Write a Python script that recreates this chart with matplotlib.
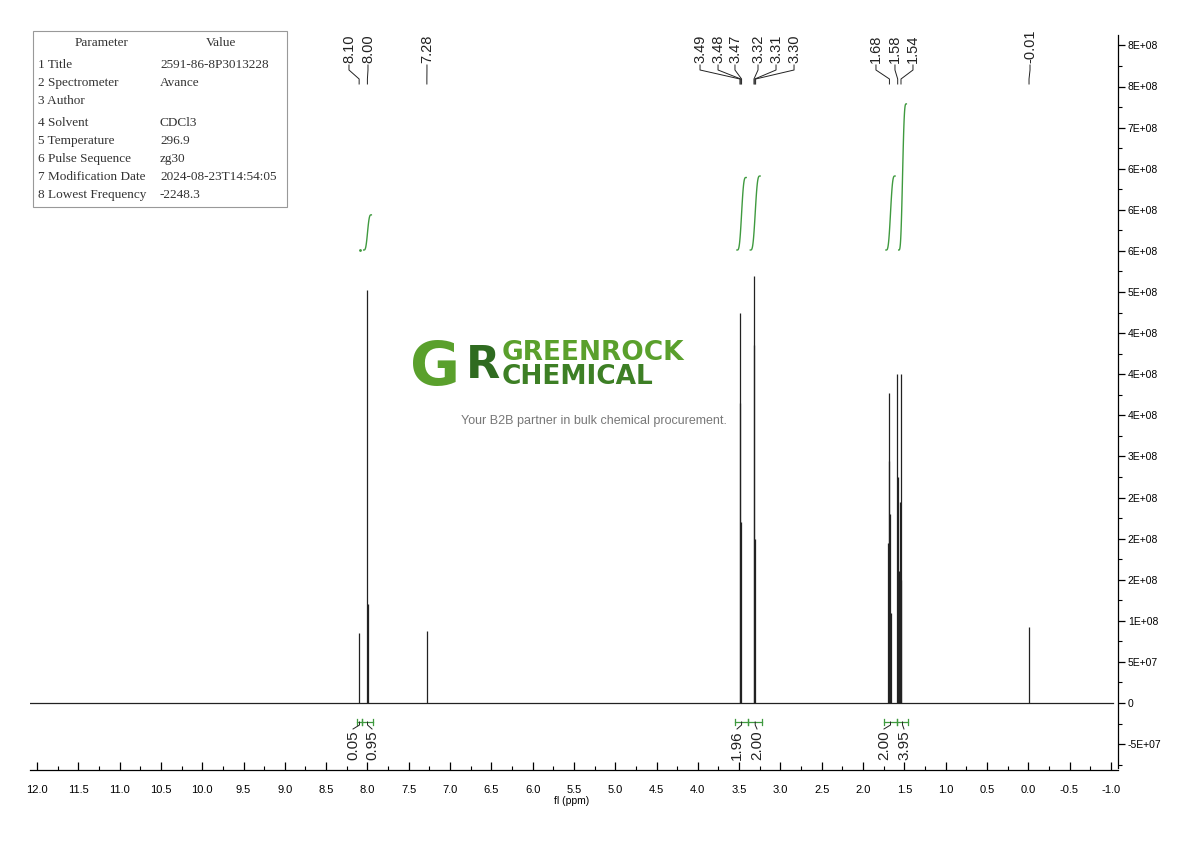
import numpy as np
import matplotlib
matplotlib.use("Agg")
import matplotlib.pyplot as plt
from matplotlib.ticker import MultipleLocator, FuncFormatter
from matplotlib.patches import Rectangle

# peak list (ppm, intensity)
peak_ppm = [8.10, 8.00, 7.99, 7.28,
            3.495, 3.485, 3.475, 3.325, 3.315, 3.305,
            1.700, 1.690, 1.680, 1.670, 1.660,
            1.585, 1.575, 1.565, 1.555, 1.545, 1.535,
            -0.01]
peak_int = [8.5e7, 5.02e8, 1.2e8, 8.8e7,
            3.65e8, 4.75e8, 2.2e8, 4.35e8, 5.2e8, 2.0e8,
            1.95e8, 2.95e8, 3.77e8, 2.3e8, 1.1e8,
            4.0e8, 2.75e8, 1.6e8, 2.45e8, 4.0e8, 1.5e8,
            9.2e7]

# peak labels on top
label_vals = ["8.10", "8.00", "7.28", "3.49", "3.48", "3.47", "3.32", "3.31", "3.30",
              "1.68", "1.58", "1.54", "-0.01"]
label_peak = [8.10, 8.00, 7.28, 3.49, 3.48, 3.47, 3.32, 3.31, 3.30, 1.68, 1.58, 1.54, -0.01]
label_pos = [8.223, 7.993, 7.279, 3.973, 3.755, 3.550, 3.271, 3.053, 2.835, 1.843, 1.613, 1.395, -0.022]

# integrals
int_vals = [0.05, 0.95, 1.96, 2.00, 2.00, 3.95]
int_from = [8.126, 8.065, 3.55, 3.39, 1.746, 1.588]
int_to = [8.065, 7.932, 3.39, 3.22, 1.588, 1.455]
int_label_pos = [8.174, 7.944, 3.525, 3.283, 1.746, 1.504]

params = ["1 Title", "2 Spectrometer", "3 Author", "4 Solvent", "5 Temperature",
          "6 Pulse Sequence", "7 Modification Date", "8 Lowest Frequency"]
values = ["2591-86-8P3013228", "Avance", "", "CDCl3", "296.9", "zg30",
          "2024-08-23T14:54:05", "-2248.3"]

W, H = 1190, 841
PX = 82.6         # px per ppm
PY = 41.1 / 5e7   # px per intensity unit
Y0 = 703          # baseline pixel row


def ppm_at(px):
    return 12.0 - (px - 37) / PX


def val_at(py):
    return (Y0 - py) / PY


sans = ["Liberation Sans", "DejaVu Sans"]
green = "#3f9a3f"
ink = "#222222"

fig = plt.figure(figsize=(W / 100, H / 100), dpi=100)
ax = fig.add_axes([30 / W, 1 - 770 / H, (1118 - 30) / W, (770 - 35) / H])
ax.set_xlim(ppm_at(30), ppm_at(1118))
ax.set_ylim(val_at(770), val_at(35))

# spectrum
ax.plot([ppm_at(30), ppm_at(1113)], [0, 0], color=ink, lw=0.9)
ax.vlines(peak_ppm, 0, peak_int, color=ink, lw=0.9)

# integral curves
ibase = val_at(250)
iscale = 4.5e7
t = np.linspace(0, 1, 80)
s1 = t * t * (3 - 2 * t)
step = s1 * s1 * (3 - 2 * s1)
for v, a, b in zip(int_vals, int_from, int_to):
    if v < 0.5:
        ax.plot([(a + b) / 2], [ibase], marker=".", ms=2, color=green)
        continue
    xs = a + (b - a) * (0.15 + 0.7 * t)
    ax.plot(xs, ibase + v * iscale * step, color=green, lw=1.0)

# integral brackets and labels
yb = val_at(722)
for v, a, b, lp in zip(int_vals, int_from, int_to, int_label_pos):
    ax.plot([a, b], [yb, yb], color=green, lw=0.9)
    for e in (a, b):
        ax.plot([e, e], [val_at(719), val_at(725)], color=green, lw=0.9)
    mid = (a + b) / 2
    ax.plot([mid, mid, lp], [yb, val_at(725), val_at(729)], color=ink, lw=0.7)
    ax.text(lp, val_at(730), "%.2f" % v, rotation=90, ha="center", va="top",
            fontsize=11, family=sans, color=ink)

# peak labels with connectors
for lab, pk, lp in zip(label_vals, label_peak, label_pos):
    ax.text(lp, val_at(63), lab, rotation=90, ha="center", va="bottom",
            fontsize=10.5, family=sans, color=ink)
    ax.plot([lp, lp, pk, pk], [val_at(65), val_at(70), val_at(79), val_at(84)],
            color=ink, lw=0.7)

# axes styling
for s in ("top", "left"):
    ax.spines[s].set_visible(False)
ax.spines["bottom"].set_linewidth(0.9)
ax.spines["right"].set_linewidth(0.9)
ax.spines["right"].set_bounds(val_at(768), val_at(35))
ax.xaxis.set_major_locator(MultipleLocator(0.5))
ax.xaxis.set_minor_locator(MultipleLocator(0.25))
ax.xaxis.set_major_formatter(FuncFormatter(lambda x, p: "%.1f" % x))
ax.tick_params(axis="x", which="major", direction="in", length=6, width=0.9, pad=11)
ax.tick_params(axis="x", which="minor", direction="in", length=3, width=0.8)
ax.yaxis.tick_right()
ax.yaxis.set_major_locator(MultipleLocator(5e7))
ax.yaxis.set_minor_locator(MultipleLocator(2.5e7))
ax.yaxis.set_major_formatter(FuncFormatter(lambda y, p: "0" if abs(y) < 1 else "%.0E" % y))
ax.tick_params(axis="y", which="major", direction="out", length=5, width=0.9, pad=2)
ax.tick_params(axis="y", which="minor", direction="out", length=3, width=0.8)
for lbl in ax.get_xticklabels():
    lbl.set_family(sans)
    lbl.set_fontsize(8)
for lbl in ax.get_yticklabels():
    lbl.set_family(sans)
    lbl.set_fontsize(7.5)
fig.text(572 / W, 1 - 801 / H, "fl (ppm)", ha="center", va="center",
         fontsize=7.5, family=sans)

# parameter table
fig.patches.append(Rectangle((33 / W, 1 - 207 / H), (287 - 33) / W, (207 - 31) / H,
                             transform=fig.transFigure, fill=False,
                             edgecolor="#999999", lw=0.8))
tfont = dict(fontsize=9.5, family=["Liberation Serif", "DejaVu Serif"], color="#333333",
             va="center")
fig.text(102 / W, 1 - 43 / H, "Parameter", ha="center", **tfont)
fig.text(221 / W, 1 - 43 / H, "Value", ha="center", **tfont)
rows_y = [65, 83, 101, 123, 141, 159, 177, 195]
for ry, p, v in zip(rows_y, params, values):
    fig.text(38 / W, 1 - ry / H, p, ha="left", **tfont)
    fig.text(160 / W, 1 - ry / H, v, ha="left", **tfont)

# watermark
fig.text(410 / W, 1 - 369 / H, "G", fontsize=44, fontweight="bold", color="#5aa02c",
         ha="left", va="center", family="DejaVu Sans")
fig.text(466 / W, 1 - 366 / H, "R", fontsize=32, fontweight="bold", color="#2f6b20",
         ha="left", va="center", family="DejaVu Sans")
fig.text(502 / W, 1 - 353 / H, "GREENROCK", fontsize=19, fontweight="bold",
         color="#5aa02c", ha="left", va="center", family="DejaVu Sans")
fig.text(502 / W, 1 - 377 / H, "CHEMICAL", fontsize=19, fontweight="bold",
         color="#3d7f25", ha="left", va="center", family="DejaVu Sans")
fig.text(594 / W, 1 - 421 / H, "Your B2B partner in bulk chemical procurement.",
         fontsize=9, color="#777777", ha="center", va="center", family=sans)

fig.savefig("out.png", dpi=100)
